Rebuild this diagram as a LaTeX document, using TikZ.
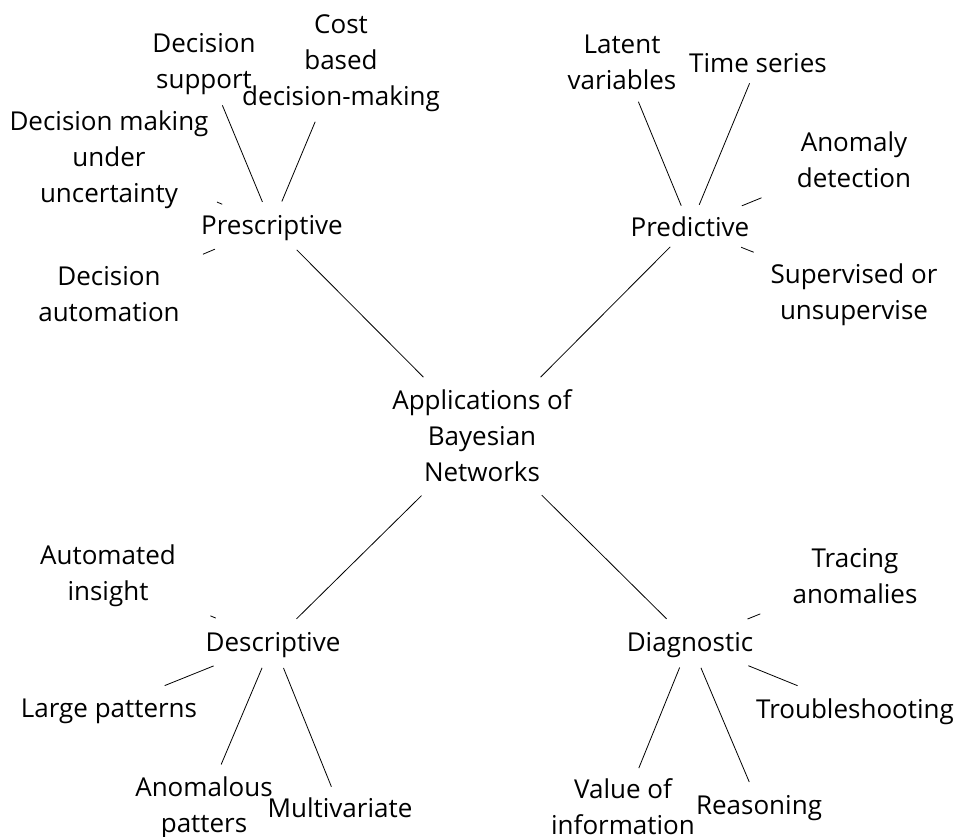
\documentclass[tikz,border=0pt]{standalone}
\usepackage{fontspec}
\setmainfont{Open Sans}
\begin{document}
\begin{tikzpicture}[x=1pt,y=-1pt,
  lbl/.style={align=center, inner sep=0pt, font=\fontsize{26}{36}\selectfont,
    text height=24pt, text depth=5pt},
  two/.style={text height=60pt},
  three/.style={text height=96pt},
  link/.style={draw=black, line width=0.8pt}]
\useasboundingbox (0,0) rectangle (957,836);

% hub and the four branches
\node[lbl, three] (root) at (482,436) {Applications of\\Bayesian\\Networks};
\node[lbl] (pre) at (272,225) {Prescriptive};
\node[lbl] (prd) at (690,227) {Predictive};
\node[lbl] (des) at (273,642) {Descriptive};
\node[lbl] (dia) at (690,642) {Diagnostic};

% prescriptive leaves
\node[lbl, two] (dsup) at (204,61) {Decision\\support};
\node[lbl, three] (cost) at (341,60) {Cost\\based\\decision-making};
\node[lbl, three] (dmu) at (109,157) {Decision making\\under\\uncertainty};
\node[lbl, two] (dauto) at (109,294) {Decision\\automation};

% predictive leaves
\node[lbl, two] (lat) at (622,62) {Latent\\variables};
\node[lbl] (ts) at (758,63) {Time series};
\node[lbl, two] (anom) at (854,160) {Anomaly\\detection};
\node[lbl, two] (sup) at (854,292) {Supervised or\\unsupervise};

% descriptive leaves
\node[lbl, two] (ains) at (108,573) {Automated\\insight};
\node[lbl] (lp) at (109,708) {Large patterns};
\node[lbl, two] (ap) at (204,805) {Anomalous\\patters};
\node[lbl] (mv) at (340,808) {Multivariate};

% diagnostic leaves
\node[lbl, two] (tra) at (855,576) {Tracing\\anomalies};
\node[lbl] (tr) at (855,709) {Troubleshooting};
\node[lbl, two] (voi) at (623,807) {Value of\\information};
\node[lbl] (rea) at (759,805) {Reasoning};

% hub to branches
\draw[link, shorten <=83pt, shorten >=35pt] (root.center) -- (pre.center);
\draw[link, shorten <=83pt, shorten >=28pt] (root.center) -- (prd.center);
\draw[link, shorten <=85pt, shorten >=33pt] (root.center) -- (des.center);
\draw[link, shorten <=84pt, shorten >=33pt] (root.center) -- (dia.center);

% branches to leaves
\draw[link, shorten <=25pt, shorten >=48pt] (pre.center) -- (dsup.center);
\draw[link, shorten <=25.5pt, shorten >=67pt] (pre.center) -- (cost.center);
\draw[link, shorten <=54pt, shorten >=117pt] (pre.center) -- (dmu.center);
\draw[link, shorten <=62pt, shorten >=102pt] (pre.center) -- (dauto.center);

\draw[link, shorten <=23pt, shorten >=43pt] (prd.center) -- (lat.center);
\draw[link, shorten <=24pt, shorten >=22pt] (prd.center) -- (ts.center);
\draw[link, shorten <=56pt, shorten >=100pt] (prd.center) -- (anom.center);
\draw[link, shorten <=55pt, shorten >=108pt] (prd.center) -- (sup.center);

\draw[link, shorten <=62pt, shorten >=111pt] (des.center) -- (ains.center);
\draw[link, shorten <=64pt, shorten >=60pt] (des.center) -- (lp.center);
\draw[link, shorten <=28pt, shorten >=44pt] (des.center) -- (ap.center);
\draw[link, shorten <=28pt, shorten >=23pt] (des.center) -- (mv.center);

\draw[link, shorten <=62pt, shorten >=102pt] (dia.center) -- (tra.center);
\draw[link, shorten <=63pt, shorten >=62pt] (dia.center) -- (tr.center);
\draw[link, shorten <=27.5pt, shorten >=42pt] (dia.center) -- (voi.center);
\draw[link, shorten <=28pt, shorten >=25pt] (dia.center) -- (rea.center);
\end{tikzpicture}
\end{document}
